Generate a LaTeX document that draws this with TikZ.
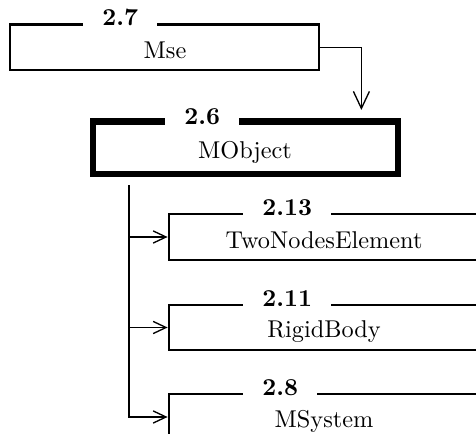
\documentclass[tikz,border=0pt]{standalone}
\usetikzlibrary{arrows.meta,calc}
\begin{document}
\begin{tikzpicture}[x=0.4115pt,y=-0.4115pt,
  box/.style={draw, rectangle, inner sep=0pt, line width=1.15pt},
  thickbox/.style={box, line width=2.5pt},
  ttl/.style={anchor=base west, fill=white, font=\bfseries, inner xsep=7.8pt, inner ysep=1.5pt},
  lbl/.style={anchor=base, inner sep=0pt},
  conn/.style={line width=0.55pt, -{Straight Barb[length=5.3pt,width=5pt]}},
  bigconn/.style={line width=0.55pt, -{Straight Barb[length=7pt,width=6.6pt]}}]
\useasboundingbox (0,0) rectangle (476,434);
\clip (0,0) rectangle (476,434);

% boxes
\node[box, minimum width=127.15pt, minimum height=18.72pt] (mse) at (164.5,47.25) {};
\node[thickbox, minimum width=125.51pt, minimum height=21.6pt] (mobject) at (245.5,147.75) {};
\node[box, minimum width=127.98pt, minimum height=18.93pt] (twonodes) at (324.5,237) {};
\node[box, minimum width=127.98pt, minimum height=18.52pt] (rigid) at (324.5,327.5) {};
\node[box, minimum width=127.98pt, minimum height=18.93pt] (msystem) at (324.5,417) {};

% titles
\node[ttl] (t27) at (83,26) {2.7};
\node[ttl] (t26) at (165,124.5) {2.6};
\node[ttl] (t213) at (243,216) {2.13};
\node[ttl] (t211) at (243,306.5) {2.11};
\node[ttl] (t28) at (243,395.5) {2.8};

% labels
\node[lbl] (lmse) at (165,59) {Mse};
\node[lbl] (lmobject) at (245,159) {MObject};
\node[lbl] (ltwonodes) at (324,249) {TwoNodesElement};
\node[lbl] (lrigid) at (324,337.5) {RigidBody};
\node[lbl] (lmsystem) at (324,427) {MSystem};

% connectors
\coordinate (drop) at ($(mse.east)+(41,0)$);
\draw[bigconn, shorten >=3.5pt] (mse.east) -- (drop) -- (drop |- mobject.north);

\coordinate (trunk) at ($(mobject.south west)+(39,8)$);
\draw[conn] (trunk) |- (twonodes.west);
\draw[conn] (trunk) |- (rigid.west);
\draw[conn] (trunk) |- (msystem.west);
\end{tikzpicture}
\end{document}
